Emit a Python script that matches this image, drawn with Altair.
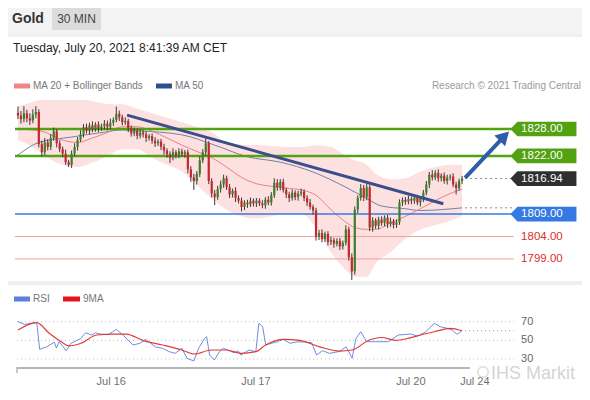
import altair as alt
import pandas as pd

# ---------------- data ----------------
closes = [
    1831.0, 1830.2, 1831.5, 1830.4, 1829.9, 1831.2, 1831.8, 1824.6, 1822.8, 1825.0,
    1824.0, 1826.0, 1827.5, 1824.8, 1823.5, 1822.5, 1820.6, 1820.0, 1822.5, 1824.0,
    1825.6, 1826.8, 1828.4, 1827.6, 1828.8, 1828.0, 1829.0, 1828.2, 1828.6, 1829.2,
    1828.5, 1829.4, 1830.0, 1831.4, 1830.6, 1829.5, 1829.8, 1828.2, 1827.0, 1827.6,
    1826.5, 1827.2, 1826.8, 1826.0, 1826.4, 1825.4, 1824.8, 1825.2, 1824.0, 1823.2,
    1822.4, 1821.6, 1822.8, 1822.2, 1823.0, 1822.4, 1822.8, 1819.0, 1817.2, 1816.4,
    1818.0, 1821.0, 1822.8, 1824.8, 1816.4, 1813.6, 1812.8, 1814.6, 1815.6, 1817.0,
    1815.0, 1813.4, 1814.2, 1812.6, 1812.0, 1810.6, 1811.6, 1811.2, 1812.0, 1811.4,
    1812.0, 1811.4, 1811.0, 1812.2, 1811.6, 1813.2, 1816.0, 1815.0, 1816.2, 1814.4,
    1813.4, 1812.6, 1813.8, 1812.8, 1813.6, 1814.0, 1812.6, 1811.6, 1810.6, 1809.8,
    1804.0, 1804.8, 1803.4, 1804.6, 1802.8, 1803.2, 1802.4, 1803.0, 1801.8, 1802.6,
    1805.6, 1799.4, 1796.2, 1810.0, 1812.6, 1814.8, 1812.8, 1815.0, 1806.0, 1807.6,
    1806.4, 1807.8, 1807.0, 1808.2, 1806.8, 1807.4, 1806.6, 1807.2, 1811.6, 1812.2,
    1811.8, 1812.4, 1812.0, 1812.6, 1811.6, 1812.4, 1813.8, 1815.6, 1817.8, 1817.2,
    1818.2, 1817.0, 1817.6, 1816.4, 1817.2, 1817.4, 1815.6, 1814.8, 1816.4, 1816.94,
]
first_open = 1831.6
upper_wick = [
    1.4, 1.0, 1.6, 0.8, 1.1, 1.2, 1.3, 0.6, 0.8, 1.0,
    0.7, 0.9, 0.8, 0.5, 0.7, 0.6, 0.9, 0.5, 0.7, 0.8,
    0.6, 0.9, 0.7, 0.8, 0.6, 0.9, 0.5, 0.7, 0.6, 0.8,
    0.7, 0.9, 0.6, 1.6, 0.7, 0.6, 0.8, 0.5, 0.6, 0.7,
    0.5, 0.8, 0.6, 0.7, 0.5, 0.6, 0.8, 0.5, 0.6, 0.7,
    0.5, 0.6, 0.9, 0.5, 0.7, 0.6, 0.5, 0.6, 0.7, 0.8,
    0.6, 0.9, 0.7, 1.2, 0.5, 0.6, 0.8, 0.7, 0.9, 0.8,
    0.6, 0.7, 0.5, 0.8, 0.6, 0.7, 0.5, 0.6, 0.7, 0.5,
    0.6, 0.5, 0.7, 0.6, 0.8, 0.7, 1.0, 0.8, 0.6, 0.7,
    0.5, 0.6, 0.7, 0.5, 0.6, 0.7, 0.5, 0.6, 0.8, 0.5,
    0.6, 0.7, 0.8, 0.5, 0.6, 0.7, 0.5, 0.6, 0.7, 0.5,
    0.9, 0.6, 0.8, 0.7, 0.6, 0.9, 0.7, 0.8, 0.6, 0.7,
    0.5, 0.6, 0.7, 0.5, 0.6, 0.8, 0.5, 0.6, 0.7, 0.5,
    0.6, 0.7, 0.5, 0.6, 0.7, 0.5, 0.6, 0.8, 0.6, 1.0,
    0.6, 0.8, 0.5, 0.7, 0.6, 0.5, 0.7, 0.6, 0.5, 0.6,
]
lower_wick = [
    0.8, 1.0, 0.7, 0.9, 1.0, 0.6, 0.8, 0.7, 0.9, 0.6,
    0.8, 0.7, 0.6, 0.9, 0.7, 0.8, 0.6, 0.5, 0.7, 0.6,
    0.8, 0.5, 0.7, 0.6, 0.8, 0.7, 0.6, 0.9, 0.6, 0.7,
    0.8, 0.6, 0.7, 0.5, 0.8, 0.7, 0.6, 0.9, 0.7, 0.6,
    0.8, 0.6, 0.7, 0.9, 0.6, 0.7, 0.8, 0.6, 0.7, 0.9,
    0.8, 1.2, 0.6, 0.8, 0.7, 0.6, 0.8, 0.9, 1.0, 2.0,
    0.8, 0.7, 0.6, 0.8, 0.7, 0.9, 1.8, 0.6, 0.8, 0.7,
    0.6, 0.8, 0.7, 0.9, 0.6, 1.0, 0.7, 0.8, 0.6, 0.7,
    0.8, 0.6, 0.7, 0.8, 0.6, 0.7, 0.6, 0.8, 0.7, 0.6,
    0.8, 0.9, 0.6, 0.7, 0.8, 0.6, 0.7, 0.8, 0.6, 0.9,
    0.9, 0.8, 0.7, 0.6, 0.8, 0.7, 0.9, 0.6, 0.8, 0.7,
    0.6, 0.8, 1.9, 0.7, 0.8, 0.6, 0.9, 0.7, 0.8, 0.9,
    0.7, 0.8, 0.6, 0.7, 0.9, 0.6, 0.8, 0.7, 0.6, 0.8,
    0.7, 0.6, 0.8, 0.7, 0.6, 0.9, 0.7, 0.6, 0.8, 0.7,
    0.6, 0.8, 0.7, 0.6, 0.8, 0.7, 0.6, 1.4, 0.6, 0.7,
]

band_idx = [0, 5, 10, 15, 20, 25, 30, 35, 40, 45, 50, 55, 60, 65, 70, 75, 80, 85,
            90, 95, 100, 105, 110, 113, 117, 120, 125, 130, 135, 140, 145, 149]
band_upper = [1833.0, 1834.0, 1835.0, 1835.2, 1835.0, 1834.2, 1833.6, 1833.5, 1832.5,
              1831.5, 1830.5, 1829.5, 1828.5, 1827.3, 1825.0, 1824.5, 1824.5, 1824.2,
              1824.0, 1824.0, 1824.4, 1824.0, 1822.0, 1821.0, 1820.0, 1818.0, 1816.8,
              1817.0, 1818.5, 1819.5, 1820.0, 1820.0]
band_lower = [1825.5, 1824.0, 1821.5, 1820.0, 1819.5, 1820.5, 1822.0, 1823.5, 1823.5,
              1821.5, 1820.0, 1818.5, 1815.5, 1812.5, 1810.0, 1808.5, 1808.0, 1808.5,
              1809.0, 1809.0, 1806.0, 1800.5, 1796.5, 1795.0, 1795.0, 1798.0, 1800.5,
              1803.5, 1805.5, 1806.5, 1807.5, 1808.5]

ma20_idx = [0, 8, 15, 20, 25, 30, 35, 40, 45, 50, 55, 60, 65, 70, 75, 80, 85, 90, 95,
            100, 105, 110, 113, 117, 120, 125, 130, 135, 140, 145, 149]
ma20_val = [1828.0, 1827.5, 1825.5, 1825.0, 1826.0, 1827.2, 1828.5, 1828.5, 1827.5,
            1826.0, 1824.4, 1823.0, 1821.6, 1819.5, 1817.2, 1815.8, 1815.2, 1814.8,
            1814.4, 1813.2, 1810.0, 1807.2, 1806.0, 1805.6, 1805.6, 1807.0, 1808.5,
            1810.2, 1812.0, 1813.6, 1814.6]

ma50_idx = [0, 7, 18, 29, 35, 40, 55, 66, 77, 88, 99, 110, 117, 122, 130, 135, 142, 149]
ma50_val = [1822.2, 1825.0, 1826.2, 1827.3, 1827.8, 1827.6, 1826.7, 1824.4, 1821.8,
            1820.6, 1818.4, 1815.0, 1812.5, 1810.8, 1810.2, 1809.8, 1810.0, 1810.4]

rsi_idx = [0, 2.3, 4.6, 6.3, 7.3, 9.6, 12.2, 12.9, 13.8, 16.2, 17.8, 21.1, 22.7, 24.7,
           26, 27.7, 30.3, 33, 34.6, 38.6, 40.9, 42.8, 46.1, 48.5, 50.8, 52.7, 55,
           56.7, 59, 60.6, 62.6, 63.3, 64.3, 65.9, 67.6, 68.9, 72.5, 73.8, 74.8, 77.5,
           79.8, 80.8, 82.1, 83.1, 87, 89, 91.3, 93.9, 96.2, 98.5, 100.2, 102.2, 104.5,
           107.8, 110.1, 112.1, 113.4, 115, 117, 120, 124.3, 127.6, 131.8, 134.1, 136.8,
           139.7, 141.7, 144, 145.7, 147.3, 149]
rsi_val = [70, 67, 68.5, 69, 40.3, 43, 48, 41.7, 48.5, 39, 46.8, 52, 58, 55.7, 58, 56.7,
           56, 61.8, 57.5, 45, 46.8, 51, 43, 41.4, 37.8, 36, 41.4, 30.7, 27.8, 41.4, 52,
           53.9, 34.2, 28.9, 37.8, 41.4, 36.7, 38.9, 34.2, 39.6, 37.8, 68.2, 64.6, 45,
           48.5, 51, 46.8, 48.5, 48, 47.5, 34.2, 38.9, 36, 38, 43, 30.7, 52, 59.2, 48.5,
           48.5, 48.5, 55.7, 56.7, 54.4, 59.2, 68.2, 64.6, 62.9, 61, 56.4, 60.3]

rsi_ma_idx = [0, 6.3, 10.5, 14.5, 17.1, 21.1, 26.4, 32, 36.3, 41.9, 48.5, 55, 59.3, 64.9,
              69.9, 74.8, 79.8, 83.1, 89, 94.6, 101.2, 107.8, 112.1, 117.7, 122, 126.6,
              130.8, 135.1, 139.7, 145, 149]
rsi_ma_val = [61, 68.9, 57.5, 48.5, 44, 46.8, 55.7, 56.7, 56.7, 50, 45, 39.6, 35.3, 39.6,
              39.6, 36, 37.8, 45, 51, 50, 43, 38.5, 39.6, 50, 53, 50, 52, 55.7, 59.2,
              62.9, 60.3]

level_prices = [1828.0, 1822.0, 1809.0, 1804.0, 1799.0]
level_labels = ["1828.00", "1822.00", "1809.00", "1804.00", "1799.00"]
last_price = 1816.94
last_label = "1816.94"
ma50_last = 1810.4
rsi_last = 60.3
trend_idx = [36.6, 142.7]
trend_val = [1831.1, 1811.3]
arrow_idx = [150.0, 163.2]
arrow_val = [1817.1, 1826.4]
rsi_levels = [70, 50, 30]
rsi_level_labels = ["70", "50", "30"]
date_labels = ["Jul 16", "Jul 17", "Jul 20", "Jul 24"]
date_idx = [31.3, 79.8, 131.8, 153.3]

# ---------------- styles / layout ----------------
FONT = "Liberation Sans"
GREEN = "#52a212"
BLUE = "#3579e3"
DARK = "#2f2f2f"
RED_LINE = "#f0a0a0"
RED_TEXT = "#d9302a"
UP = "#3f7f2c"
DOWN = "#c4272c"
WICK = "#3a3a3a"
BAND = "#fde1e1"

W, H = 570, 268
X_DOM = [-0.989, 186.88]
P_DOM = [1774.652, 1834.473]
R_DOM = [20.3, 307.7]
LINE_END = 166.3
BOX_X = 176.3
LABEL_X = 168.8
EXT_START = 150.0
AXIS_START = -0.3
AXIS_END = 151.6
BOX_PATH = "M -1 0 L -0.79 -0.223 L 1 -0.223 L 1 0.223 L -0.79 0.223 Z"
BOX_SIZE = 4356

xs = alt.Scale(domain=X_DOM, nice=False, zero=False)
ps = alt.Scale(domain=P_DOM, nice=False, zero=False)
rs = alt.Scale(domain=R_DOM, nice=False, zero=False)


def X(f):
    return alt.X(f, type="quantitative", scale=xs, axis=None)


def PY(f):
    return alt.Y(f, type="quantitative", scale=ps, axis=None)


def RY(f):
    return alt.Y(f, type="quantitative", scale=rs, axis=None)


one_row = pd.DataFrame({"k": [0]})


def vtext(txt, x, y, size, color, align="left", weight="normal"):
    return alt.Chart(one_row).mark_text(
        text=txt, align=align, baseline="middle", font=FONT, fontSize=size,
        color=color, fontWeight=weight
    ).encode(x=alt.value(x), y=alt.value(y))


def vrect(x, x2, y, y2, color):
    return alt.Chart(one_row).mark_rect(color=color).encode(
        x=alt.value(x), x2=alt.value(x2), y=alt.value(y), y2=alt.value(y2))


# ---------------- tables ----------------
opens = [first_open] + closes[:-1]
candles = pd.DataFrame({"i": list(range(len(closes))), "open": opens, "close": closes})
candles["high"] = [max(o, c) + u for o, c, u in zip(opens, closes, upper_wick)]
candles["low"] = [min(o, c) - d for o, c, d in zip(opens, closes, lower_wick)]
candles["dir"] = ["up" if c >= o else "down" for o, c in zip(opens, closes)]

band_df = pd.DataFrame({"i": band_idx, "upper": band_upper, "lower": band_lower})
ma20_df = pd.DataFrame({"i": ma20_idx, "v": ma20_val})
ma50_df = pd.DataFrame({"i": ma50_idx, "v": ma50_val})
rsi_df = pd.DataFrame({"i": rsi_idx, "v": rsi_val})
rsi_ma_df = pd.DataFrame({"i": rsi_ma_idx, "v": rsi_ma_val})
trend_df = pd.DataFrame({"i": trend_idx, "v": trend_val})
arrow_df = pd.DataFrame({"i": arrow_idx, "v": arrow_val})

level_df = pd.DataFrame({
    "price": level_prices, "x0": X_DOM[0], "x1": LINE_END,
    "color": [GREEN, GREEN, BLUE, RED_LINE, RED_LINE],
    "w": [2.5, 2.5, 1.5, 1.0, 1.0],
})
ext_df = pd.DataFrame({"price": [last_price, ma50_last], "x0": EXT_START, "x1": LINE_END})

box_df = pd.DataFrame({
    "price": [level_prices[0], level_prices[1], last_price, level_prices[2]],
    "x": BOX_X,
    "bg": [GREEN, GREEN, DARK, BLUE],
})
label_df = pd.DataFrame({
    "price": [level_prices[0], level_prices[1], last_price, level_prices[2],
              level_prices[3], level_prices[4]],
    "label": [level_labels[0], level_labels[1], last_label, level_labels[2],
              level_labels[3], level_labels[4]],
    "x": LABEL_X,
    "fg": ["white", "white", "white", "white", RED_TEXT, RED_TEXT],
})

rsi_lvl_df = pd.DataFrame({"v": rsi_levels, "label": rsi_level_labels,
                           "x0": AXIS_START, "x1": LINE_END, "x": LABEL_X})
rsi_ext_df = pd.DataFrame({"v": [rsi_last], "x0": EXT_START, "x1": LINE_END})
date_df = pd.DataFrame({"i": date_idx, "label": date_labels})
axis_df = pd.DataFrame({"x0": [AXIS_START], "x1": [AXIS_END]})

# ---------------- price panel ----------------
band = alt.Chart(band_df).mark_area(color=BAND, interpolate="monotone", clip=True).encode(
    x=X("i"), y=PY("upper"), y2="lower")
ma50 = alt.Chart(ma50_df).mark_line(color="#7480a6", strokeWidth=1, interpolate="monotone").encode(
    x=X("i"), y=PY("v"))
ma20 = alt.Chart(ma20_df).mark_line(color="#ec8080", strokeWidth=1, interpolate="monotone").encode(
    x=X("i"), y=PY("v"))
levels = alt.Chart(level_df).mark_rule().encode(
    x=X("x0"), x2="x1", y=PY("price"),
    color=alt.Color("color:N", scale=None),
    strokeWidth=alt.StrokeWidth("w:Q", scale=None))
ext = alt.Chart(ext_df).mark_rule(color="#8a8a8a", strokeWidth=1, strokeDash=[2, 3]).encode(
    x=X("x0"), x2="x1", y=PY("price"))
wicks = alt.Chart(candles).mark_rule(color=WICK, strokeWidth=1).encode(
    x=X("i"), y=PY("low"), y2="high")
bodies = alt.Chart(candles).mark_bar(size=2.2).encode(
    x=X("i"), y=PY("open"), y2="close",
    color=alt.Color("dir:N", scale=alt.Scale(domain=["up", "down"], range=[UP, DOWN]), legend=None))
trend = alt.Chart(trend_df).mark_line(color="#3b4d8a", strokeWidth=3).encode(x=X("i"), y=PY("v"))
arrow_line = alt.Chart(arrow_df).mark_line(color="#2f5ea8", strokeWidth=4).encode(x=X("i"), y=PY("v"))
arrow_head = alt.Chart(arrow_df.tail(1)).mark_point(
    shape="triangle-up", angle=45, size=230, filled=True, opacity=1, color="#2f5ea8", strokeWidth=0
).encode(x=X("i"), y=PY("v"))
boxes = alt.Chart(box_df).mark_point(shape=BOX_PATH, size=BOX_SIZE, filled=True, opacity=1,
                                     strokeWidth=0).encode(
    x=X("x"), y=PY("price"), color=alt.Color("bg:N", scale=None))
box_text = alt.Chart(label_df).mark_text(align="left", baseline="middle", font=FONT, fontSize=11.5).encode(
    x=X("x"), y=PY("price"), text="label:N", color=alt.Color("fg:N", scale=None))

price_layer = alt.layer(band, ma50, ma20, levels, ext, wicks, bodies, trend,
                        arrow_line, arrow_head, boxes, box_text)

# ---------------- RSI panel ----------------
rsi_grid = alt.Chart(rsi_lvl_df).mark_rule(color="#bdbdbd", strokeWidth=1, strokeDash=[1, 3]).encode(
    x=X("x0"), x2="x1", y=RY("v"))
rsi_line = alt.Chart(rsi_df).mark_line(color="#6c8fe0", strokeWidth=1).encode(x=X("i"), y=RY("v"))
rsi_ma = alt.Chart(rsi_ma_df).mark_line(color="#e23a3a", strokeWidth=1.2, interpolate="monotone").encode(
    x=X("i"), y=RY("v"))
rsi_ext = alt.Chart(rsi_ext_df).mark_rule(color="#9a9a9a", strokeWidth=1, strokeDash=[1, 3]).encode(
    x=X("x0"), x2="x1", y=RY("v"))
rsi_text = alt.Chart(rsi_lvl_df).mark_text(align="left", baseline="middle", font=FONT, fontSize=11,
                                           color="#666666").encode(x=X("x"), y=RY("v"), text="label:N")
axis_line = alt.Chart(axis_df).mark_rule(color="#b5b5b5", strokeWidth=2).encode(
    x=X("x0"), x2="x1", y=alt.value(H))
axis_tick = alt.Chart(axis_df).mark_rule(color="#b5b5b5", strokeWidth=1.5).encode(
    x=X("x0"), y=alt.value(H - 1), y2=alt.value(H + 5))
date_text = alt.Chart(date_df).mark_text(align="center", baseline="middle", font=FONT, fontSize=11,
                                         color="#707070").encode(x=X("i"), y=alt.value(H + 14), text="label:N")

rsi_layer = alt.layer(rsi_grid, rsi_line, rsi_ma, rsi_ext, rsi_text, axis_line, axis_tick, date_text)

# ---------------- decorations ----------------
deco = alt.layer(
    vrect(-2, 572, -92, -64, "#f3f3f3"),
    vrect(-2, 572, -64.5, -63.5, "#e6e6e6"),
    vrect(42, 91, -92, -70, "#dcdcdc"),
    vtext("Gold", 2, -81, 14, "#333333", weight="bold"),
    vtext("30 MIN", 66.5, -81.5, 12, "#444444", align="center"),
    vtext("Tuesday, July 20, 2021 8:41:39 AM CET", 3, -52, 12, "#222222"),
    vrect(4, 20, -16.5, -11.5, "#f08585"),
    vtext("MA 20 + Bollinger Bands", 23, -14, 10, "#777777"),
    vrect(146, 162, -16.5, -11.5, "#2f4e8c"),
    vtext("MA 50", 165, -14, 10, "#777777"),
    vtext("Research \u00a9 2021 Trading Central", 571, -14, 10, "#9a9a9a", align="right"),
    vrect(-2, 572, 181, 185, "#efefef"),
    vrect(4, 20, 196.5, 201.5, "#5b7fdc"),
    vtext("RSI", 23, 199, 10, "#777777"),
    vrect(53, 70, 196.5, 201.5, "#e8141a"),
    vtext("9MA", 73, 199, 10, "#777777"),
)
logo = alt.Chart(one_row).mark_point(shape="circle", size=110, filled=False, color="#cfcfcf",
                                     strokeWidth=1.5).encode(x=alt.value(473), y=alt.value(272))
watermark = vtext("IHS Markit", 481, 273.5, 18, "#d4d4d4")

chart = alt.layer(deco, price_layer, rsi_layer, logo, watermark).resolve_scale(
    y="independent"
).properties(
    width=W,
    height=H,
    autosize=alt.AutoSizeParams(type="none"),
    padding={"left": 2, "top": 92, "right": 2, "bottom": 20},
    background="white",
).configure_view(strokeWidth=0)

chart.save("out.html", embed_options={"renderer": "svg", "actions": False})
